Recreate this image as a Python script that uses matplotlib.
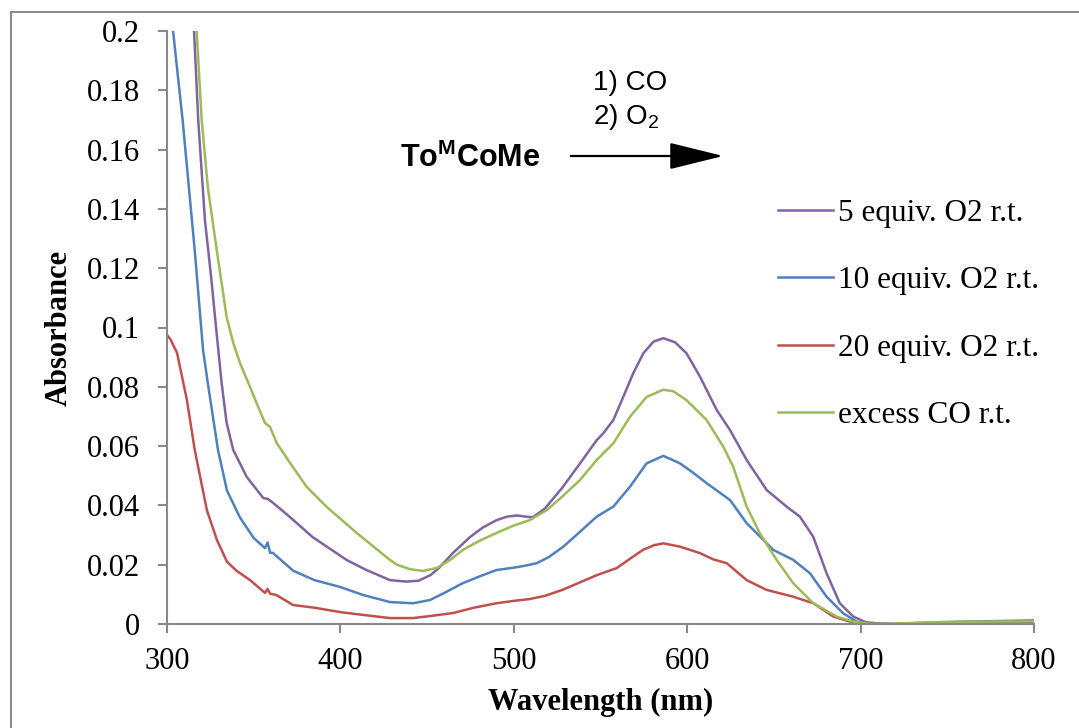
import matplotlib
matplotlib.use('Agg')
import matplotlib.pyplot as plt
from matplotlib.patches import Rectangle, FancyArrowPatch

# UV-vis spectra, absorbance
wl_5eq = [315.6, 318, 321.9, 323.8, 325.8, 327.7, 329.6, 331.5, 334.4, 338.2, 346, 355.5,
          358, 361.3, 371, 384, 403.6, 415, 428.6, 438, 445, 452, 457, 465, 474.7, 482,
          490, 496, 502, 507, 511, 518, 528, 538, 547.8, 551.6, 557.4, 563.2, 568.9, 574.7,
          580.5, 586.2, 593, 599.6, 607.4, 617, 624.7, 634.3, 645.8, 657.3, 665, 672.7,
          680.4, 688, 695.8, 703, 712, 720, 740, 760, 780, 800]
abs_5eq = [0.200, 0.170, 0.136, 0.126, 0.115, 0.1035, 0.0924, 0.0813, 0.0678, 0.0587, 0.0496,
           0.0425, 0.0422, 0.0408, 0.036, 0.0293, 0.0216, 0.0182, 0.0148, 0.0143, 0.0146,
           0.0165, 0.019, 0.024, 0.0293, 0.0325, 0.035, 0.0362, 0.0366, 0.0362, 0.036, 0.039,
           0.046, 0.054, 0.062, 0.0643, 0.0688, 0.0767, 0.0846, 0.0913, 0.0952, 0.0964, 0.095,
           0.0913, 0.0834, 0.0722, 0.0654, 0.0553, 0.0452, 0.0396, 0.0362, 0.0294, 0.0171,
           0.007, 0.0025, 0.0006, 0.0001, 0.0, 0.0005, 0.0008, 0.001, 0.0012]

wl_10eq = [303.5, 309, 314.4, 316, 320.8, 323.6, 329.4, 334.6, 342, 350, 356.5, 358,
           359.5, 361, 372.7, 385, 399.8, 413, 428.6, 442, 451.7, 460, 470.7, 480, 490,
           500, 506, 513.2, 520, 528.6, 538, 547.8, 557.4, 567, 576.6, 586.2, 595.8, 603,
           611.2, 624.7, 634.3, 649.6, 661.2, 670.8, 680.4, 690, 697.7, 705, 712, 730, 750,
           780, 800]
abs_10eq = [0.200, 0.170, 0.136, 0.126, 0.0924, 0.081, 0.0587, 0.045, 0.036, 0.029, 0.0256,
            0.0275, 0.024, 0.024, 0.018, 0.0148, 0.0125, 0.0098, 0.0074, 0.007, 0.0081, 0.0105,
            0.0138, 0.016, 0.0182, 0.019, 0.0196, 0.0205, 0.0225, 0.0261, 0.031, 0.0362, 0.0396,
            0.0463, 0.0542, 0.0567, 0.0542, 0.0512, 0.0475, 0.0418, 0.034, 0.025, 0.0216, 0.0171,
            0.0092, 0.0036, 0.0008, 0.0002, 0.0, 0.0, 0.0006, 0.0006, 0.0005]

wl_20eq = [300, 302, 305.8, 311.5, 316, 323, 328.8, 334.6, 340, 347.9, 356.5, 358, 359.5,
           363, 372.7, 385, 400, 414, 428.6, 442, 452, 465, 477, 490, 500, 509, 518, 528,
           538, 548, 559.5, 567, 574.5, 581, 586.2, 595.8, 607.4, 615, 622.8, 634.3, 645.8,
           661.2, 672.7, 684.3, 693.9, 705, 720, 740, 770, 800]
abs_20eq = [0.0975, 0.096, 0.0914, 0.0755, 0.0587, 0.0384, 0.0283, 0.021, 0.018, 0.0148,
            0.0105, 0.0118, 0.0102, 0.0098, 0.0064, 0.0055, 0.004, 0.003, 0.002, 0.002, 0.0027,
            0.0037, 0.0055, 0.007, 0.0078, 0.0084, 0.0095, 0.0115, 0.014, 0.0165, 0.0189, 0.022,
            0.025, 0.0266, 0.0272, 0.0261, 0.0239, 0.0218, 0.0205, 0.0148, 0.0115, 0.0092,
            0.007, 0.0025, 0.0008, 0.0, 0.0, 0.0002, 0.0, 0.0]

wl_co = [317.1, 320, 323.6, 328.7, 331.5, 334.4, 338.2, 342.1, 346.9, 351.7, 356.5, 359.4,
         363.3, 371, 380.6, 392.1, 409.4, 428.6, 432.6, 440, 447.6, 455.6, 463, 470.7, 480,
         490, 500, 509, 519, 528, 538.2, 547.8, 557.4, 567, 576.6, 586.2, 592, 599.6, 611.2,
         620.8, 626.5, 634.3, 641.9, 651.6, 661.2, 672.7, 686.2, 695.8, 705, 715, 740, 770, 800]
abs_co = [0.200, 0.170, 0.147, 0.126, 0.115, 0.1035, 0.0948, 0.088, 0.0813, 0.0745, 0.0678,
          0.0665, 0.061, 0.0543, 0.0462, 0.0395, 0.0307, 0.0216, 0.020, 0.0185, 0.0179, 0.0189,
          0.0215, 0.025, 0.028, 0.0307, 0.0332, 0.035, 0.0384, 0.043, 0.0486, 0.0553, 0.0609,
          0.0699, 0.0766, 0.079, 0.0785, 0.0755, 0.0688, 0.0598, 0.0531, 0.0396, 0.0306,
          0.0216, 0.0137, 0.007, 0.0025, 0.0008, 0.0001, 0.0, 0.0006, 0.0008, 0.0009]

labels = ['5 equiv. O2 r.t.', '10 equiv. O2 r.t.', '20 equiv. O2 r.t.', 'excess CO r.t.']
colors = ['#8064A2', '#4F81BD', '#C0504D', '#9BBB59']

x_ticks = [300, 400, 500, 600, 700, 800]
y_ticks = [0, 0.02, 0.04, 0.06, 0.08, 0.1, 0.12, 0.14, 0.16, 0.18, 0.2]
y_tick_labels = ['0', '0.02', '0.04', '0.06', '0.08', '0.1', '0.12', '0.14', '0.16', '0.18', '0.2']

plt.rcParams['font.family'] = ['Liberation Serif', 'DejaVu Serif']
plt.rcParams['mathtext.fontset'] = 'custom'
plt.rcParams['mathtext.rm'] = 'Liberation Sans'
plt.rcParams['mathtext.bf'] = 'Liberation Sans:bold'

W, H = 1079, 728
fig = plt.figure(figsize=(W / 100, H / 100), dpi=100)
ax = fig.add_axes([167 / W, 1 - 624 / H, (1034 - 167) / W, (624 - 31) / H])

series = [(wl_5eq, abs_5eq), (wl_10eq, abs_10eq), (wl_20eq, abs_20eq), (wl_co, abs_co)]
for (wl, ab), lab, col in zip(series, labels, colors):
    ax.plot(wl, ab, color=col, linewidth=1.8, label=lab)

ax.set_xlim(300, 800)
ax.set_ylim(0, 0.2)
ax.set_xticks(x_ticks)
ax.set_yticks(y_ticks)
ax.set_yticklabels(y_tick_labels)

grey = '#898989'
for side in ['top', 'right']:
    ax.spines[side].set_visible(False)
for side in ['left', 'bottom']:
    ax.spines[side].set_color(grey)
    ax.spines[side].set_linewidth(1.5)
ax.tick_params(axis='both', direction='out', length=6.5, width=1.5, color=grey,
               labelsize=22, labelcolor='black')
ax.tick_params(axis='x', pad=10)
ax.tick_params(axis='y', pad=13)

ax.set_xlabel('Wavelength (nm)', fontsize=22, fontweight='bold')
ax.set_ylabel('Absorbance', fontsize=22, fontweight='bold')
ax.xaxis.set_label_coords(0.5, -0.108)
ax.yaxis.set_label_coords(-0.108, 0.5)

ax.legend(loc='upper left', bbox_to_anchor=(778 / W, 1 - 199 / H),
          bbox_transform=fig.transFigure, frameon=False, fontsize=22.5,
          handlelength=1.75, handletextpad=0.17, labelspacing=1.23,
          borderpad=0, borderaxespad=0)

# reaction scheme drawn on top of the plot
fig.text(400 / W, 1 - 167 / H, r'$\mathbf{To^{M}CoMe}$', fontsize=22, va='baseline')
fig.text(593 / W, 1 - 90 / H, '1) CO', fontsize=20, family='Liberation Sans', va='baseline')
fig.text(593 / W, 1 - 124 / H, r'2) O$_\mathrm{2}$', fontsize=20,
         family='Liberation Sans', va='baseline')
fig.add_artist(FancyArrowPatch(
    (568 / W, 1 - 156 / H), (726 / W, 1 - 156 / H), transform=fig.transFigure,
    arrowstyle='-|>,head_length=1.7,head_width=0.42', mutation_scale=20,
    color='black', linewidth=1.6))

# chart-area border (only top and left edges fall inside the image)
fig.add_artist(Rectangle((11 / W, -0.5), 2, 0.5 + (1 - 12 / H), transform=fig.transFigure,
                         fill=False, edgecolor='#8c8c8c', linewidth=1.5))

plt.savefig('out.png', dpi=100)
